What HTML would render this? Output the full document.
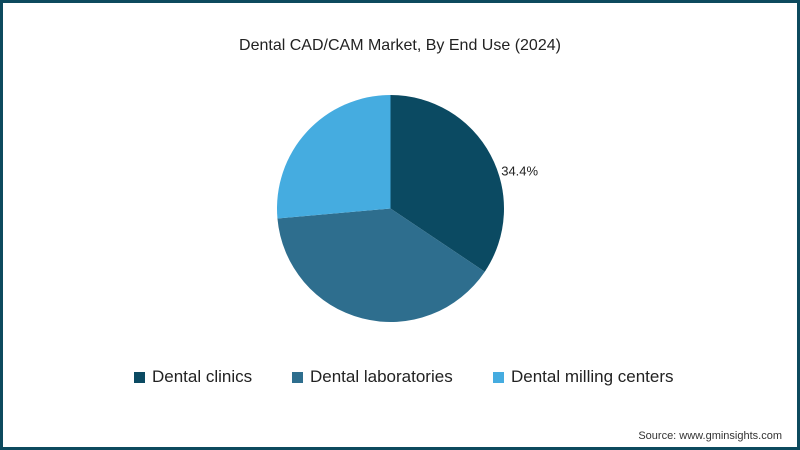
<!DOCTYPE html>
<html><head><meta charset="utf-8"><style>
html,body{margin:0;padding:0}
body{width:800px;height:450px;overflow:hidden;font-family:"Liberation Sans",sans-serif;background:#fff}
.frame{position:absolute;left:0;top:0;width:794px;height:444px;border:3px solid #0d4a5e;background:#fff}
.title{position:absolute;top:37px;width:800px;text-align:center;font-size:16px;color:#222}
.legend{position:absolute;top:367px;left:0;width:800px;font-size:17px;color:#222}
.li{position:absolute;display:flex;align-items:center}
.sw{width:11px;height:11px;margin-right:7px}
.src{position:absolute;right:18px;top:430px;font-size:11px;color:#333}
</style></head><body>
<div class="frame"></div>
<div class="title">Dental CAD/CAM Market, By End Use (2024)</div>
<svg id="pie" width="800" height="450" style="position:absolute;left:0;top:0"></svg>
<div class="legend">
 <div class="li" style="left:134px"><span class="sw" style="background:#0b4a62"></span>Dental clinics</div>
 <div class="li" style="left:292px"><span class="sw" style="background:#2e6e8e"></span>Dental laboratories</div>
 <div class="li" style="left:493px"><span class="sw" style="background:#45ace0"></span>Dental milling centers</div>
</div>
<div class="src">Source: www.gminsights.com</div>
<script>
const categories=["Dental clinics","Dental laboratories","Dental milling centers"];
const values=[34.4,39.2,26.4];
const labels=["34.4%","",""];
const colors=["#0b4a62","#2e6e8e","#45ace0"];
const svg=document.getElementById('pie');
const NS="http://www.w3.org/2000/svg";
const cx=390.5,cy=208.5,r=113.5;
const total=values.reduce((a,b)=>a+b,0);
let a0=0;
function pt(a,rr){return [cx+rr*Math.sin(a),cy-rr*Math.cos(a)];}
values.forEach((v,i)=>{
  const a1=a0+v/total*2*Math.PI;
  const p0=pt(a0,r),p1=pt(a1,r);
  const large=(a1-a0)>Math.PI?1:0;
  const path=document.createElementNS(NS,'path');
  path.setAttribute('d',`M${cx},${cy} L${p0[0]},${p0[1]} A${r},${r} 0 ${large} 1 ${p1[0]},${p1[1]} Z`);
  path.setAttribute('fill',colors[i]);
  
  
  svg.appendChild(path);
  if(labels[i]){
    const am=(a0+a1)/2;
    const lp=pt(am,r+12);
    const t=document.createElementNS(NS,'text');
    t.setAttribute('x',lp[0]);t.setAttribute('y',lp[1]+26);
    t.setAttribute('font-size','13');t.setAttribute('fill','#222');
    t.setAttribute('font-family','Liberation Sans, sans-serif');
    t.textContent=labels[i];
    
    
    svg.appendChild(t);
  }
  a0=a1;
});
</script>
</body></html>
